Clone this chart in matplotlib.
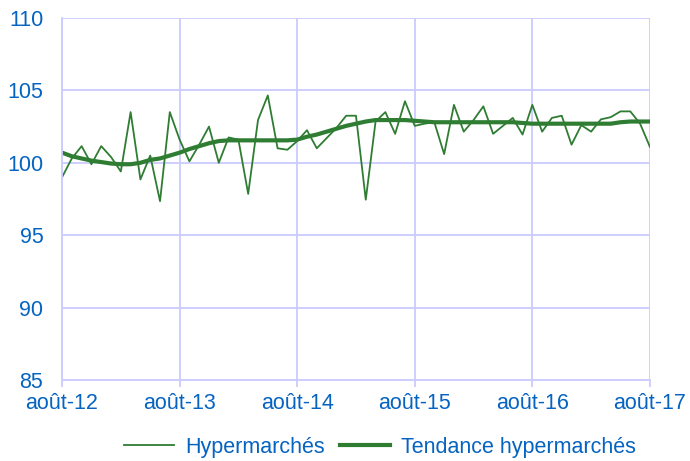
import matplotlib
matplotlib.use("Agg")
import matplotlib.pyplot as plt

# --- données (indice mensuel, août-12 à août-17) ---
hypermarches = [
    99.0, 100.3, 101.15, 99.9, 101.15, 100.4, 99.4, 103.5, 98.85, 100.5,
    97.35, 103.5, 101.6, 100.1, 101.25, 102.5, 100.0, 101.75, 101.6, 97.85,
    102.95, 104.65, 101.0, 100.9, 101.5, 102.25, 101.0, 101.7, 102.4, 103.25,
    103.25, 97.45, 102.85, 103.5, 102.0, 104.25, 102.55, 102.7, 102.8, 100.6,
    104.0, 102.15, 102.95, 103.9, 102.0, 102.55, 103.1, 101.95, 104.0, 102.15,
    103.1, 103.25, 101.25, 102.6, 102.15, 103.0, 103.15, 103.55, 103.55, 102.7,
    101.1,
]
tendance = [
    100.7, 100.45, 100.3, 100.15, 100.05, 99.95, 99.9, 99.9, 100.0, 100.2,
    100.3, 100.5, 100.7, 100.95, 101.15, 101.35, 101.5, 101.55, 101.55, 101.55,
    101.55, 101.55, 101.55, 101.55, 101.6, 101.8, 101.95, 102.15, 102.35, 102.55,
    102.7, 102.85, 102.95, 102.95, 102.95, 102.95, 102.9, 102.85, 102.8, 102.8,
    102.8, 102.8, 102.8, 102.8, 102.8, 102.8, 102.8, 102.75, 102.7, 102.7,
    102.7, 102.7, 102.7, 102.7, 102.7, 102.7, 102.7, 102.8, 102.85, 102.85,
    102.85,
]
mois = list(range(len(hypermarches)))
tick_pos = [0, 12, 24, 36, 48, 60]
tick_labels = ["août-12", "août-13", "août-14", "août-15", "août-16", "août-17"]

VERT = "#2E7D32"
BLEU = "#0563C1"
GRILLE = "#CCCCFF"
TAILLE = 15.5

plt.rcParams["font.family"] = ["Liberation Sans", "DejaVu Sans"]

fig = plt.figure(figsize=(6.9, 4.61), dpi=100)
ax = fig.add_axes([0.0899, 0.1757, 0.852, 0.7853])

ax.plot(mois, hypermarches, color=VERT, lw=1.3, label="Hypermarchés")
ax.plot(mois, tendance, color=VERT, lw=3.0, label="Tendance hypermarchés")

ax.set_xlim(0, 60)
ax.set_ylim(85, 110)
ax.set_yticks([85, 90, 95, 100, 105, 110])
ax.set_xticks(tick_pos)
ax.set_xticklabels(tick_labels)

ax.grid(True, color=GRILLE, lw=1.3)
ax.set_axisbelow(True)
for side in ["top", "right"]:
    ax.spines[side].set_visible(False)
for side in ["left", "bottom"]:
    ax.spines[side].set_color(GRILLE)
    ax.spines[side].set_linewidth(1.3)

ax.tick_params(axis="y", length=0, pad=13.5, labelsize=TAILLE, labelcolor=BLEU)
ax.tick_params(axis="x", length=5, width=1.3, color=GRILLE, pad=4,
               labelsize=TAILLE, labelcolor=BLEU)

leg = fig.legend(loc="center", bbox_to_anchor=(0.551, 0.03), ncol=2,
                 frameon=False, fontsize=TAILLE, handlelength=2.3,
                 columnspacing=0.7, handletextpad=0.55)
for txt in leg.get_texts():
    txt.set_color(BLEU)

fig.savefig("out.png", dpi=100)
